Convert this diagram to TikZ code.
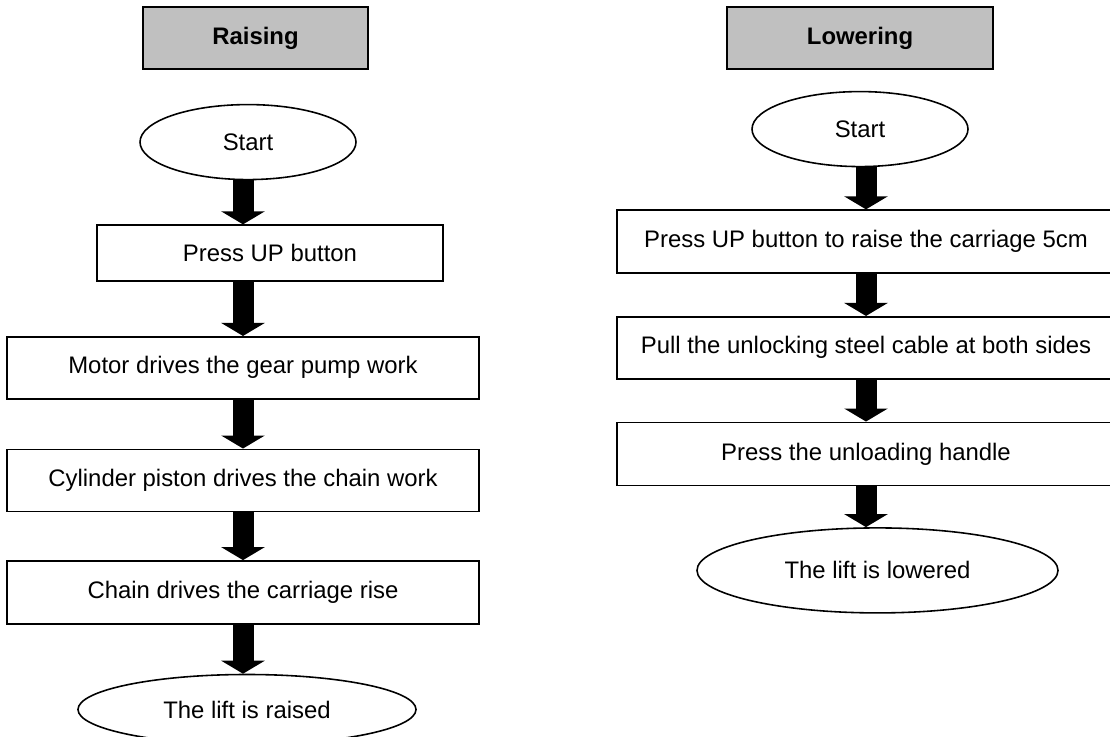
\documentclass[tikz,border=0pt]{standalone}
\usepackage{fontspec}
\setmainfont{Liberation Sans}
\usepackage{xcolor}
\usetikzlibrary{positioning,shapes.geometric,arrows.meta}

\definecolor{headgray}{HTML}{C0C0C0}

\tikzset{
    every node/.style={font=\fontsize{13.6}{16}\selectfont, inner sep=0pt},
    headbox/.style={draw, rectangle, fill=headgray, line width=0.9pt, font=\fontsize{13.6}{16}\selectfont\bfseries},
    stepbox/.style={draw, rectangle, line width=0.9pt},
    endbox/.style={draw, ellipse, line width=0.9pt},
    flow/.style={line width=0.42cm, -{Triangle[width=0.86cm, length=0.26cm]}}
}

\begin{document}
\begin{tikzpicture}
    \useasboundingbox (0,0) rectangle (22.2,-14.72);

    % raising
    \node[headbox, minimum width=4.5cm, minimum height=1.24cm] (raise) at (5.11,-0.76) {Raising};
    \node[endbox, minimum width=4.32cm, minimum height=1.5cm, below=0.68cm of raise, xshift=-0.15cm] (startL) {Start};
    \node[stepbox, minimum width=6.92cm, minimum height=1.12cm, below=0.88cm of startL, xshift=0.44cm] (pressL) {Press UP button};
    \node[stepbox, minimum width=9.44cm, minimum height=1.24cm, below=1.08cm of pressL, xshift=-0.54cm] (motor) {Motor drives the gear pump work};
    \node[stepbox, minimum width=9.44cm, minimum height=1.24cm, below=0.98cm of motor] (piston) {Cylinder piston drives the chain work};
    \node[stepbox, minimum width=9.44cm, minimum height=1.26cm, below=0.96cm of piston] (chain) {Chain drives the carriage rise};
    \node[endbox, minimum width=6.76cm, minimum height=1.4cm, below=0.98cm of chain, xshift=0.08cm] (raised) {The lift is raised};

    \draw[flow] (startL.south -| motor) -- (pressL.north -| motor);
    \draw[flow] (pressL.south -| motor) -- (motor.north);
    \draw[flow] (motor) ++(0,-0.62) -- (piston.north);
    \draw[flow] (piston.south) -- (chain.north);
    \draw[flow] (chain.south) -- (raised.north -| chain);

    % lowering
    \node[headbox, minimum width=5.32cm, minimum height=1.24cm] (lower) at (17.2,-0.76) {Lowering};
    \node[endbox, minimum width=4.32cm, minimum height=1.5cm, below=0.42cm of lower] (startR) {Start};
    \node[stepbox, minimum width=9.96cm, minimum height=1.26cm, below=0.84cm of startR, xshift=0.12cm] (pressR) {Press UP button to raise the carriage 5cm};
    \node[stepbox, minimum width=9.96cm, minimum height=1.24cm, below=0.84cm of pressR] (cable) {Pull the unlocking steel cable at both sides};
    \node[stepbox, minimum width=9.96cm, minimum height=1.26cm, below=0.84cm of cable] (handle) {Press the unloading handle};
    \node[endbox, minimum width=7.22cm, minimum height=1.7cm, below=0.82cm of handle, xshift=0.23cm] (lowered) {The lift is lowered};

    \draw[flow] (startR.south -| pressR) -- (pressR.north);
    \draw[flow] (pressR.south) -- (cable.north);
    \draw[flow] (cable.south) -- (handle.north);
    \draw[flow] (handle.south) -- (lowered.north -| handle);
\end{tikzpicture}
\end{document}
